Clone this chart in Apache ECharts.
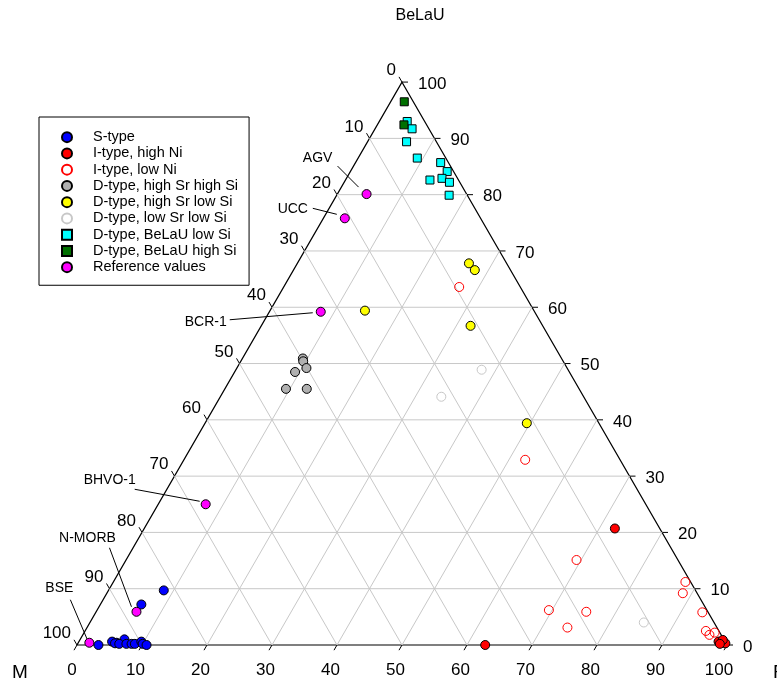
<!DOCTYPE html>
<html><head><meta charset="utf-8">
<script src="https://cdn.jsdelivr.net/npm/echarts@6/dist/echarts.min.js"></script>
<style>html,body{margin:0;padding:0;background:#fff}#c{width:777px;height:685px}</style>
</head><body><div id="c"></div>
<script>
// Ternary data: each point is [BeLaU, M, F] in percent
const TICKS = [0,10,20,30,40,50,60,70,80,90,100];
const VERTEX_NAMES = ['BeLaU','M','F'];

const sType = [
  [9.7,81.8,8.5],[7.2,86.5,6.3],[0.0,96.7,3.3],[0.6,94.3,5.1],[0.4,93.7,5.9],[0.3,94.0,5.7],
  [1.0,92.2,6.8],[0.2,93.4,6.4],[0.2,92.3,7.5],[0.2,91.5,8.3],[0.2,91.0,8.8],[0.6,89.8,9.6],
  [0.2,89.8,10.0],[0.0,89.3,10.7]
];
const iTypeHighNi = [
  [20.7,6.9,72.4],[0.0,37.2,62.8],[0.6,1.0,98.4],[0.4,0.6,99.0],[0.3,0.1,99.6],[0.9,0.2,98.9],[0.2,1.0,98.8]
];
const iTypeLowNi = [
  [63.6,9.4,27.0],[32.9,14.6,52.5],[15.1,15.6,69.3],[6.2,24.3,69.5],[5.9,18.7,75.4],[3.1,23.0,73.9],
  [11.2,0.8,88.0],[9.2,2.2,88.6],[5.8,0.9,93.3],[2.5,2.0,95.5],[1.8,1.8,96.4],[2.2,0.8,97.0]
];
const dHighSrHighSi = [
  [50.9,39.8,9.3],[50.4,40.0,9.6],[49.2,40.1,10.7],[48.5,42.2,9.3],[45.5,45.1,9.4],[45.5,41.9,12.6]
];
const dHighSrLowSi = [
  [67.8,5.8,26.4],[66.6,5.5,27.9],[56.7,11.1,32.2],[39.4,11.1,49.5],[59.4,26.0,14.6]
];
const dLowSrLowSi = [
  [48.9,13.3,37.8],[44.1,21.9,34.0],[4.0,10.8,85.2]
];
const dBeLaULowSi = [
  [93.0,2.7,4.3],[91.7,2.6,5.7],[89.4,4.6,6.0],[86.5,4.4,9.1],[85.7,1.2,13.1],[84.1,1.0,14.9],
  [82.6,4.4,13.0],[82.9,2.4,14.7],[82.2,1.6,16.2],[79.9,2.8,17.3]
];
const dBeLaUHighSi = [
  [96.5,1.4,2.1],[92.4,3.5,4.1]
];
const refNames = ['AGV','UCC','BCR-1','BHVO-1','N-MORB','BSE'];
const refValues = [
  [80.1,15.4,4.5],[75.8,20.9,3.3],[59.2,32.9,7.9],[25.0,67.7,7.3],[5.9,87.9,6.2],[0.4,97.9,1.7]
];
const seriesNames = ['S-type','I-type, high Ni','I-type, low Ni','D-type, high Sr high Si',
  'D-type, high Sr low Si','D-type, low Sr low Si','D-type, BeLaU low Si','D-type, BeLaU high Si','Reference values'];

// ---- layout / style (not data) ----
const FONT = 'Liberation Sans, Arial, sans-serif';
const S3 = Math.sqrt(3)/2;
function tern(p){ const s = p[0]+p[1]+p[2]; const b = p[0]*100/s, f = p[2]*100/s; return [f + b/2, b*S3]; }
const PX = 6.5; // pixels per unit
const TICK_FONT = 17;
const ANN = {
  'AGV':    {t:[-49,-36], a:[-29,-28], b:[-8,-7]},
  'UCC':    {t:[-52,-9],  a:[-32,-10], b:[-8,-4]},
  'BCR-1':  {t:[-115,10], a:[-91,8],  b:[-8,1]},
  'BHVO-1': {t:[-96,-24], a:[-71,-15], b:[-6,-3]},
  'N-MORB': {t:[-49,-74], a:[-27,-64], b:[-5,-5]},
  'BSE':    {t:[-30,-55], a:[-19,-43], b:[-2,-3]}
};
const SQUARE = 'path://M0,0H10V10H0Z';

const styles = [
  {symbol:'circle', size:9, color:'#0000ff', border:'#000'},
  {symbol:'circle', size:9, color:'#ff0000', border:'#000'},
  {symbol:'circle', size:9, color:'rgba(0,0,0,0)', border:'#ff0000'},
  {symbol:'circle', size:9, color:'#b0b0b0', border:'#000'},
  {symbol:'circle', size:9, color:'#ffff00', border:'#000'},
  {symbol:'circle', size:9, color:'rgba(0,0,0,0)', border:'#c8c8c8'},
  {symbol:SQUARE, size:8, color:'#00ffff', border:'#000'},
  {symbol:SQUARE, size:8, color:'#007000', border:'#000'},
  {symbol:'circle', size:9, color:'#ff00ff', border:'#000'}
];
const groups = [sType, iTypeHighNi, iTypeLowNi, dHighSrHighSi, dHighSrLowSi, dLowSrLowSi, dBeLaULowSi, dBeLaUHighSi, refValues];

function frameRender(params, api){
  const t = api.value(0);
  const P = (b,m,f) => api.coord(tern([b,m,f]));
  const ch = [];
  const gs = {stroke:'#c8c8c8', lineWidth:1};
  const ln = (p,q,st) => ch.push({type:'line', shape:{x1:p[0],y1:p[1],x2:q[0],y2:q[1]}, style:st});
  if (t > 0 && t < 100) {
    ln(P(t,100-t,0), P(t,0,100-t), gs);
    ln(P(0,100-t,t), P(100-t,0,t), gs);
    ln(P(0,t,100-t), P(100-t,t,0), gs);
  }
  const ts = {stroke:'#000', lineWidth:1};
  const txt = (s,x,y,al,va,fs) => ch.push({type:'text', style:{text:s, x:x, y:y, align:al, verticalAlign:va, fill:'#000', fontSize:fs||TICK_FONT, fontFamily:FONT}});
  const lab = String(t);
  // bottom (F)
  let p = P(0,100-t,t);
  ln(p, [p[0]-3, p[1]+5.2], ts);
  txt(lab, p[0]-5-(lab.length-1)*1.5, p[1]+25, 'center', 'middle');
  // right (BeLaU)
  p = P(t,0,100-t);
  ln(p, [p[0]+6, p[1]], ts);
  txt(lab, p[0]+16, p[1]+2, 'left', 'middle');
  // left (M)
  p = P(100-t,t,0);
  ln(p, [p[0]-3, p[1]-5.2], ts);
  txt(lab, p[0]-6, p[1]-11.5, 'right', 'middle');
  if (params.dataIndex === 0) {
    const A = P(100,0,0), B = P(0,100,0), C = P(0,0,100);
    ch.push({type:'polygon', shape:{points:[A,B,C]}, style:{fill:'none', stroke:'#000', lineWidth:1.2}});
    txt(VERTEX_NAMES[0], A[0]+18, A[1]-66, 'center', 'middle', 16);
    txt(VERTEX_NAMES[1], B[0]-57, B[1]+28, 'center', 'middle', 19);
    txt(VERTEX_NAMES[2], C[0]+46, C[1]+28, 'left', 'middle', 19);
  }
  return {type:'group', children:ch};
}

function annRender(params, api){
  const p = api.coord([api.value(0), api.value(1)]);
  const L = ANN[refNames[params.dataIndex]];
  return {type:'group', children:[
    {type:'line', shape:{x1:p[0]+L.a[0], y1:p[1]+L.a[1], x2:p[0]+L.b[0], y2:p[1]+L.b[1]}, style:{stroke:'#000', lineWidth:1}},
    {type:'text', style:{text:refNames[params.dataIndex], x:p[0]+L.t[0], y:p[1]+L.t[1], align:'center', verticalAlign:'middle', fill:'#000', fontSize:14, fontFamily:FONT}}
  ]};
}

const series = [
  {type:'custom', name:'frame', coordinateSystem:'cartesian2d', silent:true, z:1,
   data: TICKS.map(t => [t, 0]), renderItem: frameRender},
  {type:'custom', name:'annotations', coordinateSystem:'cartesian2d', silent:true, z:2,
   data: refValues.map(tern), renderItem: annRender}
];
groups.forEach((g,i) => {
  const s = styles[i];
  series.push({type:'scatter', name:seriesNames[i], coordinateSystem:'cartesian2d', z:3+i,
    symbol:s.symbol, symbolSize:s.size, symbolKeepAspect:true, data:g.map(tern),
    itemStyle:{color:s.color, borderColor:s.border, borderWidth:1, opacity:1}});
});

const chart = echarts.init(document.getElementById('c'), null, {renderer:'canvas'});
chart.setOption({
  animation:false,
  backgroundColor:'#fff',
  grid:{left:0,right:0,top:0,bottom:0},
  xAxis:{type:'value', min:-77/PX, max:700/PX, show:false},
  yAxis:{type:'value', min:-40/PX, max:645/PX, show:false},
  legend:{data:seriesNames, orient:'vertical', left:39, top:117, itemWidth:42, itemHeight:10, itemGap:0,
    symbolKeepAspect:true,
    padding:[12,11,10,22], borderColor:'#000', borderWidth:1, backgroundColor:'#fff', selectedMode:false,
    textStyle:{fontSize:14.5, fontFamily:FONT, color:'#000', lineHeight:16.25}},
  series: series
});
</script></body></html>
